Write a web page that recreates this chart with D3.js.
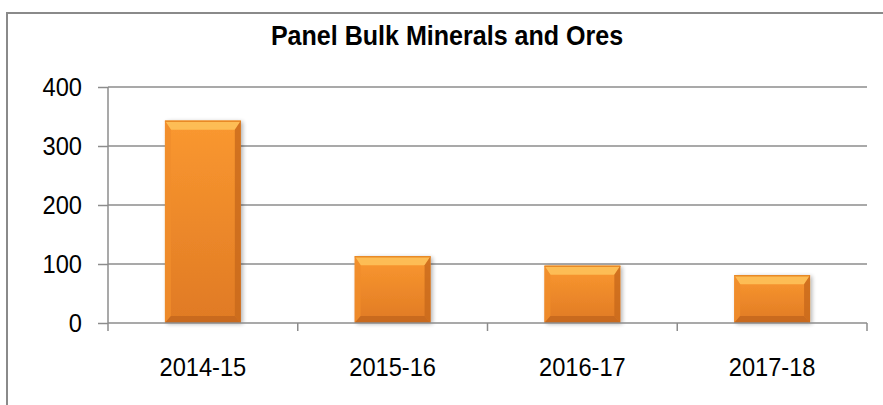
<!DOCTYPE html>
<html>
<head>
<meta charset="utf-8">
<script src="https://cdn.jsdelivr.net/npm/d3@7"></script>
<style>
  body { margin: 0; background: #fff; }
  text { font-family: "Liberation Sans", Arial, sans-serif; }
</style>
</head>
<body>
<div class="canvas"></div>
<script>
// data
const categories = ['2014-15', '2015-16', '2016-17', '2017-18'];
const values = [343, 113, 97, 81];
const yTicks = [0, 100, 200, 300, 400];
const title = 'Panel Bulk Minerals and Ores';

const width = 883, height = 405;
const squeeze = 0.91; // glyphs in the original are a bit condensed

const svg = d3.select('.canvas')
  .append('svg')
  .attr('width', width)
  .attr('height', height);

// chart frame (only top and left visible)
svg.append('path')
  .attr('d', `M7,${height} V13 H${width}`)
  .attr('fill', 'none')
  .attr('stroke', '#8a8a8a')
  .attr('stroke-width', 2);

const margin = { top: 87, right: 16, bottom: 82, left: 108 };
const graphWidth = width - margin.left - margin.right;
const graphHeight = 323 - margin.top;

const graph = svg.append('g')
  .attr('transform', `translate(${margin.left},${margin.top})`);

const x = d3.scaleBand()
  .domain(categories)
  .range([0, graphWidth])
  .padding(0);

const y = d3.scaleLinear()
  .domain([0, 400])
  .range([graphHeight, 0]);

// gridlines
graph.selectAll('line.grid')
  .data(yTicks.filter(d => d > 0))
  .enter()
  .append('line')
  .attr('class', 'grid')
  .attr('x1', 0)
  .attr('x2', graphWidth)
  .attr('y1', d => y(d))
  .attr('y2', d => y(d))
  .attr('stroke', '#8c8c8c')
  .attr('stroke-width', 1.5);

// gradients for the bevelled bars
const defs = svg.append('defs');
const body = defs.append('linearGradient').attr('id', 'body')
  .attr('x1', 0).attr('y1', 0).attr('x2', 0).attr('y2', 1);
body.append('stop').attr('offset', '0%').attr('stop-color', '#fa9830');
body.append('stop').attr('offset', '100%').attr('stop-color', '#e07a24');

const shadow = defs.append('filter').attr('id', 'shadow')
  .attr('x', '-20%').attr('y', '-10%').attr('width', '140%').attr('height', '120%');
shadow.append('feGaussianBlur').attr('in', 'SourceAlpha').attr('stdDeviation', 2);
shadow.append('feOffset').attr('dx', 2).attr('dy', 1).attr('result', 'off');
shadow.append('feComponentTransfer').append('feFuncA').attr('type', 'linear').attr('slope', 0.3);
const merge = shadow.append('feMerge');
merge.append('feMergeNode');
merge.append('feMergeNode').attr('in', 'SourceGraphic');

const barW = x.bandwidth() / 2.5;
const bars = graph.selectAll('g.bar')
  .data(values)
  .enter()
  .append('g')
  .attr('class', 'bar');

bars.each(function (d, i) {
  const g = d3.select(this);
  const x0 = x(categories[i]) + (x.bandwidth() - barW) / 2;
  const x1 = x0 + barW;
  const y0 = y(d);
  const y1 = y(0);
  const bt = Math.min(9, (y1 - y0) / 3); // top bevel
  const bb = Math.min(7, (y1 - y0) / 4); // bottom bevel
  const bs = 6;                          // side bevel

  g.append('rect')
    .attr('x', x0).attr('y', y0)
    .attr('width', barW).attr('height', y1 - y0)
    .attr('fill', 'url(#body)')
    .attr('filter', 'url(#shadow)');

  // top bevel
  g.append('path')
    .attr('d', `M${x0},${y0} H${x1} L${x1 - bs},${y0 + bt} H${x0 + bs} Z`)
    .attr('fill', '#fdbd55');
  g.append('line')
    .attr('x1', x0).attr('x2', x1).attr('y1', y0 + 0.5).attr('y2', y0 + 0.5)
    .attr('stroke', '#e88a26').attr('stroke-width', 1.5);
  // left bevel
  g.append('path')
    .attr('d', `M${x0},${y0} L${x0 + bs},${y0 + bt} V${y1 - bb} L${x0},${y1} Z`)
    .attr('fill', '#f08d2c').attr('opacity', 0.8);
  // right bevel
  g.append('path')
    .attr('d', `M${x1},${y0} L${x1 - bs},${y0 + bt} V${y1 - bb} L${x1},${y1} Z`)
    .attr('fill', '#c8691c').attr('opacity', 0.8);
  // bottom bevel
  g.append('path')
    .attr('d', `M${x0},${y1} L${x0 + bs},${y1 - bb} H${x1 - bs} L${x1},${y1} Z`)
    .attr('fill', '#c96a1e');
});

// axes
const yAxis = d3.axisLeft(y)
  .tickValues(yTicks)
  .tickSize(10)
  .tickPadding(16);
const xAxis = d3.axisBottom(x)
  .tickSize(0)
  .tickPadding(35);

const yAxisGroup = graph.append('g').call(yAxis);
const xAxisGroup = graph.append('g')
  .attr('transform', `translate(0,${graphHeight})`)
  .call(xAxis);

// category boundary ticks
xAxisGroup.selectAll('line.bound')
  .data(d3.range(categories.length + 1))
  .enter()
  .append('line')
  .attr('class', 'bound')
  .attr('x1', i => i * x.step())
  .attr('x2', i => i * x.step())
  .attr('y1', 0).attr('y2', 8)
  .attr('stroke', '#8c8c8c').attr('stroke-width', 1.5);

[yAxisGroup, xAxisGroup].forEach(gr => {
  gr.select('.domain').attr('stroke', '#8c8c8c').attr('stroke-width', 1.5);
  gr.selectAll('.tick line').attr('stroke', '#8c8c8c').attr('stroke-width', 1.5);
  gr.selectAll('text')
    .attr('font-family', '"Liberation Sans", Arial, sans-serif')
    .attr('font-size', 26)
    .attr('fill', '#000')
    .attr('transform', `scale(${squeeze},1)`);
});
yAxisGroup.selectAll('text').attr('x', -26 / squeeze);
yAxisGroup.select('.domain').attr('d', `M0,0V${graphHeight}`);
xAxisGroup.select('.domain').attr('d', `M0,0H${graphWidth}`);

svg.append('text')
  .attr('transform', `translate(447,45) scale(0.895,1)`)
  .attr('text-anchor', 'middle')
  .attr('font-size', 28)
  .attr('font-weight', 'bold')
  .attr('fill', '#000')
  .text(title);
</script>
</body>
</html>
